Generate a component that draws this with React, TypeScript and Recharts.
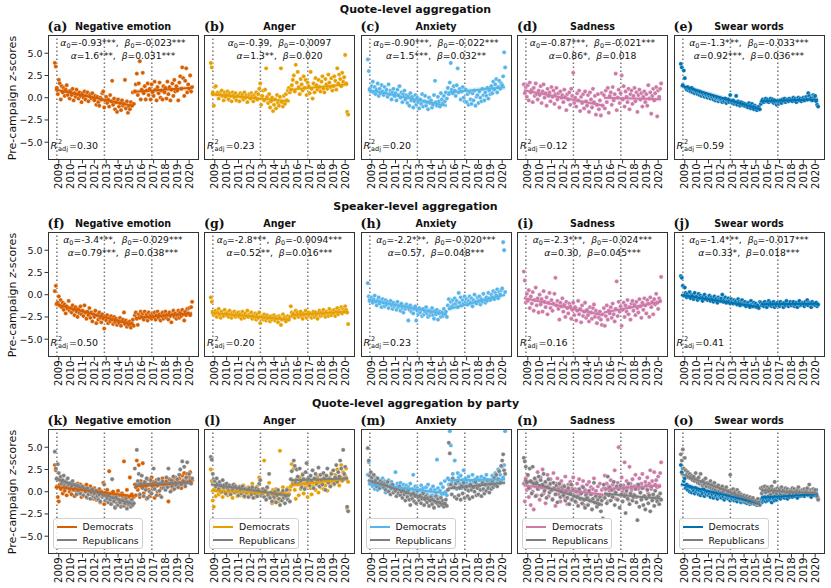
import React from 'react';
import { ComposedChart, Scatter, XAxis, YAxis, ReferenceLine } from 'recharts';

// monthly series: Sep 2008 .. Apr 2020 (140 months), campaign starts Jun 2015 (index 81)
const START_YEAR = 2008;
const START_MONTH = 9;
const N_MONTHS = 140;
const CAMPAIGN_IDX = 81;
const ELECTIONS = [2008.84, 2012.85, 2016.85];
const YEAR_TICKS = [2009, 2010, 2011, 2012, 2013, 2014, 2015, 2016, 2017, 2018, 2019, 2020];
const Y_TICKS = [-5, -2.5, 0, 2.5, 5];

const ROW_TITLES = ['Quote-level aggregation', 'Speaker-level aggregation', 'Quote-level aggregation by party'];
const CATEGORIES = ['Negative emotion', 'Anger', 'Anxiety', 'Sadness', 'Swear words'];
const LABELS = [
  ['(a)', '(b)', '(c)', '(d)', '(e)'],
  ['(f)', '(g)', '(h)', '(i)', '(j)'],
  ['(k)', '(l)', '(m)', '(n)', '(o)'],
];
const COLORS = ['#d55e00', '#e69f00', '#56b4e9', '#cc79a7', '#0072b2'];
const REP_COLOR = '#7f7f7f';

// fitted coefficients text: [alpha0, beta0, alpha, beta, R2adj]
const QUOTE_STATS = [
  ['-0.93***', '-0.023***', '1.6***', '0.031***', '0.30'],
  ['-0.39', '-0.0097', '1.3**', '0.020', '0.23'],
  ['-0.90***', '-0.022***', '1.5***', '0.032**', '0.20'],
  ['-0.87***', '-0.021***', '0.86*', '0.018', '0.12'],
  ['-1.3***', '-0.033***', '0.92***', '0.036***', '0.59'],
];
const SPEAKER_STATS = [
  ['-3.4***', '-0.029***', '0.79***', '0.038***', '0.50'],
  ['-2.8***', '-0.0094***', '0.52**', '0.016***', '0.20'],
  ['-2.2***', '-0.020***', '0.57', '0.048***', '0.23'],
  ['-2.3***', '-0.024***', '0.30', '0.045***', '0.16'],
  ['-1.4***', '-0.017***', '0.33*', '0.018***', '0.41'],
];

// ---- quote-level ----
const negQuote = [
  3.9, 3.5, 1.1, 0.4,
  2.0, 1.6, -0.2, 1.3, 0.6, 1.1, 0.2, 0.9, 1.4, 0.3, 0.7, -0.1,
  0.8, 0.3, 1.0, -0.3, 0.5, 0.1, 0.9, 0.4, -0.1, 0.6, 0.2, -0.5,
  0.5, 0.0, 0.7, -0.2, 0.3, 0.6, -0.4, 0.2, 0.4, -0.1, 0.5, 0.0,
  -0.3, 0.2, -0.8, 0.1, -0.5, -0.9, 0.0, -0.2, 0.5, 0.7, -1.1, -0.3,
  0.1, -0.6, -0.2, -1.0, 0.3, -0.4, 1.9, -0.8, -0.1, -1.3, -0.5, -1.6,
  -0.2, -1.0, -0.6, -1.4, -0.3, -0.9, -0.7, 2.0, -1.2, -0.4, -1.7, -1.0,
  -1.3, -0.5, -0.9, 0.6, -0.7, 0.7, 1.5, 2.7, 0.3, 1.6, 4.1, -0.2,
  0.9, 2.8, 0.5, 1.3, -0.2, 0.8, 1.6, 0.3, 1.0, -0.2, 1.5, 0.6,
  0.2, 1.8, 0.9, -0.3, 1.2, 0.5, 1.7, 0.0, 0.8, -0.2, 1.3, 0.6,
  1.1, -0.1, 1.8, 0.4, 1.2, -0.3, 0.9, 1.6, 0.2, 2.0, 0.7, 1.3,
  0.8, -0.3, 1.7, 2.4, 1.0, 3.4, 2.2, 0.2, 1.9, 3.3, 0.6, 1.5,
  1.0, 2.5, 0.7, 1.2,
];
const angQuote = [
  3.9, 3.4, 0.6, -0.9,
  1.2, 1.3, 0.4, 0.6, -0.1, 0.5, 0.3, 0.8, 0.2, -0.3, 0.6, 0.1,
  0.4, 0.7, -0.2, 0.5, 0.2, -0.4, 0.6, 0.3, 0.0, 0.5, -0.3, 0.2,
  0.3, -0.4, 0.5, 0.1, 0.4, -0.2, 0.6, 0.0, 0.3, -0.5, 0.2, 0.4,
  -0.1, 0.5, 0.2, -0.4, 0.3, 0.0, 0.6, -0.2, 0.4, 1.0, 1.6, -0.8,
  0.2, 0.8, -0.3, 0.9, 3.3, 0.1, -0.6, 0.4, -1.1, -0.4, 0.0, -1.5,
  -0.8, -0.2, -1.2, 0.3, -0.6, -0.9, 0.1, 3.3, -0.5, -1.0, 0.2, -0.7,
  0.4, -0.3, 0.8, 1.1, 0.6, 0.9, 1.4, 2.0, 2.5, 0.7, 3.7, 1.7,
  2.9, 1.2, 0.4, 2.1, 1.5, 0.8, 2.4, 1.1, 2.0, 0.3, 1.7, 1.3,
  0.5, 2.9, 1.0, -0.1, 1.6, 0.6, 2.2, 1.4, 0.9, 2.0, 1.2, 0.7,
  1.8, 2.4, 1.0, 0.6, 2.1, 1.5, 1.0, 2.6, 1.7, 1.2, 2.2, 0.8,
  1.3, 2.4, 1.9, 0.9, 3.3, 1.6, 2.6, 2.1, 1.3, 2.8, 1.8, 2.3,
  4.8, 1.6, -1.6, -1.9,
];
const anxQuote = [
  4.3, 3.0, 1.0, 0.7,
  1.3, 1.8, 0.6, 1.2, 0.4, 0.9, 1.6, 0.2, 1.0, 0.5, 1.4, 0.7,
  0.3, 1.2, 0.6, 0.9, 0.1, 1.5, 0.4, 0.8, -0.2, 0.6, 1.0, 0.2,
  0.5, -0.3, 0.9, 0.3, 1.3, 0.0, 0.6, -0.5, 0.4, 0.8, -0.2, 0.3,
  -0.6, 0.2, -0.9, 0.5, -0.3, 0.1, -1.1, -0.4, 0.3, -0.8, 0.0, -0.5,
  -1.2, -0.2, -0.7, 0.4, -1.0, -0.4, 0.2, -0.9, -0.5, -1.3, 0.0, -0.6,
  -0.3, -1.1, -0.8, 0.3, 1.9, -0.5, -0.9, 0.1, -0.4, -1.0, 0.5, -0.2,
  -0.6, 0.2, -0.4, 0.6, -0.1, 1.1, 0.4, 1.7, 3.9, 0.9, 0.5, 1.3,
  0.8, 0.2, 1.4, 3.3, 0.6, 1.0, -0.2, 0.7, 1.2, 0.0, -0.4, 0.9,
  -0.5, 0.4, -0.8, 0.6, -0.2, -0.7, 0.5, -0.3, 0.8, -0.9, 0.1, 0.3,
  -0.6, 0.7, 0.0, -0.4, 1.0, 0.3, -0.3, 0.6, 0.2, 1.1, -0.1, 0.8,
  0.4, 1.3, 0.5, 1.8, 0.9, 1.5, 2.1, 0.6, 1.2, 1.9, 1.0, 1.6,
  1.4, 2.4, 5.1, 3.4,
];
const sadQuote = [
  1.5, 0.5, 1.2, 0.1,
  1.4, -0.3, 1.7, 0.6, 0.9, -0.5, 1.1, 0.2, 1.6, 0.4, -0.2, 0.8,
  0.3, 1.3, -0.6, 0.7, 1.5, 0.0, 0.5, -0.9, 1.0, 0.2, 0.6, -0.4,
  1.2, 0.1, 0.8, -0.7, 0.4, 1.1, -0.2, 0.5, -1.1, 0.7, 0.0, 0.3,
  -0.5, 0.9, 0.1, -1.4, 0.4, -0.2, 0.6, -0.8, 1.0, 0.2, 2.8, -0.6,
  0.0, -1.0, 0.5, -0.3, 0.8, -1.5, 0.1, -0.6, 0.4, -1.2, 0.7, -0.4,
  -0.9, 0.3, -1.6, 0.6, -0.2, -1.1, 1.0, -0.5, 0.2, -1.9, -0.8, 0.4,
  -1.3, -0.3, -2.0, 0.5, -0.9, 0.3, -1.2, 0.8, -0.5, 1.1, -1.7, 0.2,
  0.6, -0.8, 1.2, -0.3, 0.4, 2.7, -1.4, 0.0, 0.9, -0.6, 0.5, 2.5,
  -0.2, 1.3, -1.0, 0.7, 0.1, -0.5, 1.0, -1.3, 0.4, 0.8, -0.7, 0.2,
  1.1, -0.4, 0.6, -1.6, 0.3, 0.9, -0.2, 0.5, -1.0, 0.1, 0.7, -0.5,
  0.4, -0.9, 1.4, -0.1, 0.6, -1.8, 0.2, 1.0, -0.3, 0.5, 1.2, -2.1,
  0.8, 0.1, 1.0, 1.6,
];
const swQuote = [
  3.8, 3.4, 1.4, 3.05,
  2.2, 1.1, 0.9, 1.2, 0.8, 1.0, 0.7, 1.1, 0.6, 0.9, 0.5, 0.8,
  0.6, 0.4, 0.7, 0.3, 0.6, 0.2, 0.5, 0.3, 0.1, 0.4, 0.2, 0.0,
  0.3, 0.1, -0.1, 0.2, 0.0, -0.2, 0.1, -0.3, -0.1, 0.0, -0.4, -0.2,
  -0.1, -0.3, -0.5, -0.2, -0.4, -0.1, -0.6, -0.3, -0.2, -0.5, 0.3, -0.4,
  -0.6, -0.3, -0.7, -0.5, 0.2, -0.8, -0.4, -0.6, -0.9, -0.5, -0.8, -0.6,
  -0.9, -0.7, -1.0, -0.8, -1.1, -0.6, -0.9, -1.2, -0.7, -1.0, -1.3, -0.9,
  -1.1, -1.4, -1.2, -1.0, -1.3, -0.7, -0.4, -0.2, -0.5, -0.3, -0.1, -0.4,
  -0.2, -0.5, -0.3, -0.1, -0.4, -0.2, -0.6, -0.3, -0.5, -0.8, -0.4, -0.7,
  -0.5, -0.3, -0.6, -0.2, -0.4, -0.1, -0.5, -0.3, -0.2, -0.4, -0.1, -0.3,
  -0.2, -0.4, 0.0, -0.3, -0.1, -0.5, -0.2, 0.0, -0.3, -0.1, -0.4, -0.2,
  0.0, -0.3, -0.1, 0.1, -0.2, 0.5, 0.2, -0.1, 0.0, -0.3, 0.3, 0.1,
  0.2, -0.4, -0.8, -1.0,
];

// ---- speaker-level ----
const negSpeaker = [
  0.4, 1.0, -1.0, -0.9,
  -0.2, -1.2, -0.6, -1.4, -0.9, -1.7, -1.1, -2.1, -1.3, -1.6, -0.7, -1.8,
  -1.5, -2.0, -1.2, -1.7, -2.3, -1.4, -1.9, -2.5, -1.6, -2.1, -1.3, -2.2,
  -1.8, -2.4, -1.2, -2.0, -2.7, -1.9, -2.3, -1.5, -2.6, -2.0, -3.0, -2.2,
  -2.5, -1.8, -3.2, -2.3, -2.8, -2.0, -2.6, -3.1, -2.2, -2.7, -3.8, -2.4,
  -2.9, -2.3, -3.2, -2.6, -3.0, -2.4, -2.8, -3.3, -2.5, -3.1, -2.7, -3.4,
  -2.9, -3.2, -2.6, -3.5, -3.0, -2.8, -2.0, -3.3, -2.9, -3.6, -3.1, -3.4,
  -3.0, -3.7, -3.2, -2.8, -3.5, -2.3, -2.0, -2.7, -3.4, -2.2, -2.6, -1.9,
  -2.4, -2.1, -2.8, -1.9, -2.5, -2.2, -2.9, -2.0, -2.6, -2.3, -2.7, -2.1,
  -2.5, -2.0, -2.8, -2.3, -1.9, -2.6, -2.2, -2.9, -2.4, -2.0, -2.7, -2.3,
  -1.9, -2.6, -2.2, -2.8, -2.0, -2.4, -3.1, -2.2, -1.8, -2.5, -2.1, -2.7,
  -2.3, -1.8, -2.6, -2.0, -2.4, -1.7, -2.2, -2.9, -1.9, -2.3, -1.6, -2.1,
  -1.5, -2.3, -1.4, -0.8,
];
const angSpeaker = [
  -0.3, -0.8, -1.9, -2.3,
  -2.1, -1.8, -2.5, -2.0, -1.6, -2.3, -2.6, -1.9, -2.2, -2.4, -1.7, -2.1,
  -2.3, -2.0, -2.5, -1.8, -2.2, -2.6, -2.0, -2.3, -1.9, -2.5, -2.1, -2.4,
  -2.0, -2.5, -2.2, -2.7, -1.9, -2.3, -2.6, -2.1, -2.4, -1.8, -2.5, -2.2,
  -2.4, -2.0, -2.7, -2.3, -2.5, -2.1, -2.8, -2.2, -2.6, -2.0, -3.2, -2.4,
  -2.5, -2.8, -2.2, -2.6, -2.9, -2.3, -2.7, -2.5, -3.0, -2.4, -2.8, -2.6,
  -2.3, -2.9, -2.5, -2.7, -3.1, -2.4, -2.6, -3.4, -2.8, -2.2, -2.7, -2.5,
  -3.0, -2.6, -2.4, -2.8, -2.5, -1.3, -2.0, -2.4, -2.1, -2.6, -1.8, -2.3,
  -2.0, -2.5, -2.2, -1.9, -2.4, -2.7, -2.1, -2.3, -1.8, -2.6, -2.2, -2.0,
  -2.4, -2.1, -2.6, -2.2, -1.9, -2.5, -2.0, -2.3, -2.7, -2.1, -1.8, -2.4,
  -2.0, -2.3, -1.7, -2.2, -2.5, -1.9, -2.1, -2.4, -1.6, -2.0, -2.3, -1.8,
  -2.1, -1.7, -2.4, -1.9, -1.5, -2.2, -1.8, -2.0, -1.4, -2.1, -1.6, -1.9,
  -1.3, -1.7, -2.0, -3.3,
];
const anxSpeaker = [
  1.3, -0.2, -0.7, -0.4,
  -0.3, -0.9, -0.5, -0.1, -0.8, -1.2, -0.6, -0.3, -1.0, -0.7, -1.4, -0.5,
  -0.9, -1.3, -0.6, -1.1, -0.8, -1.5, -1.0, -0.7, -1.2, -1.6, -0.9, -1.3,
  -1.1, -1.7, -0.8, -1.4, -1.2, -1.8, -1.0, -1.5, -2.0, -1.3, -1.6, -1.1,
  -1.4, -2.9, -1.7, -1.2, -1.9, -1.5, -2.1, -1.6, -1.3, -2.9, -1.8, -2.2,
  -1.5, -2.0, -1.7, -2.4, -1.6, -2.2, -1.9, -1.4, -2.1, -2.5, -1.8, -2.3,
  -2.0, -1.5, -2.3, -2.7, -1.8, -2.2, -1.7, -2.8, -2.1, -1.9, -2.5, -2.0,
  -2.4, -1.6, -2.2, -1.9, -2.5, -1.2, -0.5, -1.5, -0.8, -1.3, -0.6, -1.1,
  -0.4, -1.0, -0.7, -1.4, 0.2, -0.9, -0.3, -1.2, -0.6, -1.0, -0.2, -0.8,
  -0.5, -1.1, -0.7, -0.2, -0.9, -0.4, -1.3, -0.6, 0.0, -0.8, -1.0, -0.3,
  -0.7, -0.2, -1.1, -0.5, -0.8, 0.1, -0.6, -0.9, -0.3, -0.7, 0.2, -0.4,
  -0.6, 0.0, -0.3, 0.4, -0.5, 0.2, -0.1, 0.6, -0.4, 0.3, 0.0, 0.5,
  0.7, 5.9, 5.0, 0.3,
];
const sadSpeaker = [
  2.6, 1.6, -0.9, 0.1,
  -0.7, 0.5, -1.5, -0.2, -1.0, 0.3, -1.8, -0.6, 0.8, -1.2, -0.4, -2.0,
  0.0, -1.1, -0.5, -1.9, 0.4, -0.8, -1.4, -0.3, -2.2, -0.9, 0.2, -1.5,
  -0.6, -1.8, -1.0, 0.1, 1.9, -1.2, -0.7, -1.6, -2.8, -0.9, -1.3, -0.4,
  -1.9, -1.1, -2.5, -0.8, -1.5, -2.1, -1.0, -1.3, -2.7, -1.7, -0.9, -2.3,
  -1.4, -2.9, -1.8, -0.7, -2.2, -1.6, -3.1, -1.2, -2.4, -1.9, -0.9, -2.6,
  -1.7, -2.3, -3.0, -1.4, -2.0, -2.7, -1.5, -1.1, -2.5, -1.8, -3.2, -2.1,
  -2.6, -1.9, -2.8, -3.4, -2.2, -1.5, -3.5, -2.4, -1.2, -2.8, -1.8, -2.1,
  -1.4, -2.6, -1.0, -2.2, -3.0, -1.6, 1.5, -2.4, -0.8, -1.9, -1.3, -3.5,
  -1.7, -0.9, -2.5, -1.2, -1.9, -0.6, -2.2, -1.4, -2.8, -1.0, -0.7, -1.8,
  -1.1, -2.3, -0.8, -1.5, -2.0, -0.5, -1.3, -2.6, -0.9, -1.7, -0.4, -1.2,
  -2.1, -0.6, -1.0, -2.5, -0.3, -1.4, -0.8, -2.2, -0.5, -1.1, 0.1, -0.9,
  -1.6, -0.4, -0.7, 2.0,
];
const swSpeaker = [
  2.1, 1.9, 1.0, -0.1,
  0.8, 0.2, -0.3, 0.1, -0.2, 0.3, -0.4, 0.0, -0.1, -0.5, 0.2, -0.3,
  -0.2, -0.6, 0.1, -0.4, -0.1, -0.3, -0.7, -0.2, 0.0, -0.5, -0.3, -0.6,
  -0.4, -0.1, -0.7, -0.3, -0.5, -0.8, -0.2, -0.6, -0.4, -0.9, -0.3, -0.5,
  -0.7, -0.4, 0.0, -0.8, -0.5, -0.3, -0.9, -0.6, -0.4, -0.7, -1.0, -0.5,
  -0.8, -1.0, -0.6, -0.9, -0.7, -1.1, -0.5, -0.8, -1.2, -0.9, -0.6, -1.0,
  -1.1, -0.8, -1.3, -1.0, -0.9, -1.2, -1.4, -0.7, -1.1, -1.3, -0.9, -1.2,
  -1.0, -1.4, -1.2, -1.5, -0.8, -0.9, -1.2, -1.0, -1.3, -0.8, -1.1, -1.4,
  -1.0, -0.7, -1.2, -0.9, -1.3, -1.1, -0.8, -1.4, -1.0, -1.2, -0.9, -1.1,
  -1.3, -0.8, -1.1, -1.0, -1.4, -0.9, -1.2, -0.7, -1.1, -1.3, -1.0, -0.8,
  -1.2, -1.0, -0.8, -1.3, -1.1, -0.9, -1.4, -1.0, -0.7, -1.2, -1.1, -0.9,
  -1.0, -1.3, -0.8, -1.1, -0.6, -1.2, -0.9, -1.0, -1.4, -0.8, -1.1, -1.0,
  -1.2, -0.9, -1.3, -1.1,
];

// ---- quote-level by party ----
const negDem = [
  3.0, 2.4, 0.5, -0.6,
  -1.1, 0.8, 0.3, 1.1, -0.2, 0.6, 0.1, 1.2, -0.4, 0.5, 0.9, 0.0,
  0.4, -0.3, 0.7, 0.2, -0.5, 0.6, 0.0, 0.9, -0.2, 0.3, 0.8, -0.6,
  0.2, -0.4, 0.5, 0.0, 0.8, -0.7, 0.3, -0.1, 0.6, -0.3, 0.1, -0.8,
  0.4, -0.2, -0.9, 0.1, -0.5, 0.3, -1.2, 0.0, -0.4, 1.0, -1.4, -0.1,
  -0.6, 0.2, -0.3, 2.3, -0.9, -0.2, -1.1, 0.0, -0.5, -1.7, -0.3, -0.8,
  0.1, -1.0, -0.4, -1.3, -0.2, -0.7, 3.4, -1.1, -0.5, 0.2, -1.5, -0.6,
  1.6, -0.9, -0.3, -1.2, -0.6, 0.8, -0.4, 3.5, 0.2, 3.0, -0.6, 1.2,
  0.5, 3.2, -0.2, 1.0, 0.6, -0.8, 1.4, 0.2, -0.5, 0.9, 1.6, 0.3,
  1.1, -0.7, 0.6, 1.3, 0.0, 0.8, -0.4, 1.0, 0.4, 1.5, 0.7, 1.1,
  0.3, 1.2, 0.8, -1.1, 1.4, 0.6, 1.0, 0.2, 1.3, 0.9, 1.6, 0.5,
  1.2, 0.7, 1.5, 1.0, 0.4, 1.8, 1.3, 2.1, 0.9, 1.4, 2.0, 1.1,
  1.6, 2.2, 1.0, 1.3,
];
const negRep = [
  4.5, 2.6, 1.5, 3.1,
  2.1, 1.4, 1.7, 0.9, 1.3, 1.8, 0.7, 1.1, 0.5, 1.5, 0.8, 0.3,
  1.0, 0.6, 1.2, 0.2, 0.8, 0.4, -0.3, 0.7, 0.1, 0.5, -0.2, 0.3,
  0.6, -0.4, 0.2, 0.0, -0.6, 0.4, -0.3, 0.1, -0.8, -0.1, 0.3, -0.5,
  -0.2, -0.7, 0.1, -0.5, -0.9, -0.3, -1.1, 0.0, -0.6, -0.4, 0.8, -1.0,
  -0.5, -0.8, -1.2, -0.3, -0.9, -1.4, 1.4, -0.7, -1.1, -1.8, -0.6, -1.3,
  -1.5, -0.9, -1.2, -1.7, -0.4, -1.0, -1.6, -1.3, -0.8, -1.9, -1.1, -1.4,
  -1.2, -1.7, -0.9, -1.5, -1.3, 2.6, 0.5, 4.7, 1.2, 2.0, -0.3, 0.9,
  1.8, 0.4, -0.5, 1.1, 0.2, 1.5, -0.7, 0.8, 0.0, 1.3, -0.2, 0.6,
  2.6, 0.3, 1.0, -0.4, 0.7, 1.4, 0.1, 0.9, -0.6, 1.2, 0.4, 0.8,
  0.2, 1.6, 0.5, 2.6, 0.9, 0.0, 1.3, 0.6, 1.7, 0.3, 1.0, 0.7,
  1.4, 0.5, 1.9, 2.5, 0.8, 3.4, 1.2, 2.8, 0.6, 1.6, 3.3, 1.1,
  2.0, 1.3, 0.9, 1.5,
];
const angDem = [
  2.5, 1.2, -1.0, -1.7,
  0.3, -0.5, 0.8, 0.1, -0.3, 0.6, -0.1, 0.4, -0.6, 0.2, 0.7, -0.2,
  0.5, -0.4, 0.1, 0.6, -0.3, 0.3, -0.7, 0.2, 0.8, -0.1, 0.4, -0.5,
  0.0, 0.6, -0.4, 0.2, -0.2, 0.7, -0.6, 0.1, 0.4, -0.3, 0.5, 0.0,
  -0.5, 0.3, 0.9, -0.2, 0.4, -0.6, 0.1, 0.6, -0.3, 1.6, 0.2, -0.4,
  0.3, -0.5, 3.5, 0.0, -0.8, 0.4, -0.2, 1.0, -0.6, -0.1, -1.3, 0.2,
  -0.4, -0.9, 0.3, -0.6, 0.0, -1.1, 4.6, -0.3, -0.8, 0.5, -0.5, -0.2,
  0.1, -0.7, 0.4, -0.3, 0.2, 0.6, 3.1, 1.0, 2.6, 0.2, -0.8, 1.4,
  0.8, -0.4, 1.6, 0.3, 1.1, 2.0, -0.2, 0.9, 0.5, 1.3, -0.6, 0.7,
  1.2, 0.4, -0.3, 1.0, 0.6, 1.5, 0.2, 0.8, 1.7, -0.1, 1.1, 0.5,
  0.9, 1.4, 0.3, 1.8, 0.7, 1.2, 0.1, 1.0, 1.6, 0.6, 2.1, 0.9,
  1.3, 0.8, 1.9, 1.1, 2.5, 1.4, 0.7, 1.7, 3.0, 1.2, 2.2, 1.5,
  1.8, 2.6, -1.9, 1.1,
];
const angRep = [
  3.9, 3.6, 2.0, 1.4,
  1.2, 0.6, 1.5, 0.9, 0.3, 1.1, 0.7, 0.0, 1.3, 0.5, 0.8, -0.2,
  0.9, 0.4, 0.1, 0.7, -0.3, 0.5, 0.2, 0.8, -0.1, 0.6, 0.0, 0.4,
  -0.4, 0.5, 0.1, -0.2, 0.6, 0.0, -0.5, 0.3, -0.1, 0.2, -0.6, 0.4,
  0.0, -0.3, 0.5, -0.7, 0.1, -0.2, 0.4, -0.5, 0.2, 0.9, 1.3, -0.4,
  -0.2, 0.3, -0.6, 0.1, -0.9, 0.5, -0.4, 2.0, -0.7, -0.1, -1.1, -0.3,
  -0.6, 0.0, -1.2, -0.4, 0.2, -0.8, -1.5, -0.2, -1.0, 0.1, -0.7, -1.3,
  -0.5, 0.2, -0.9, -0.3, -1.1, 1.4, 2.3, 0.8, 3.5, 2.9, 1.0, 2.5,
  1.7, 0.9, 2.6, 1.2, 0.5, 1.9, 1.4, 0.3, 2.2, 3.2, 1.0, 1.6,
  0.7, 1.8, 1.1, 2.4, 0.4, 1.5, 2.0, 0.9, 1.3, 2.7, 0.6, 1.9,
  1.2, 0.8, 2.1, 1.5, 0.2, 1.8, 2.6, 1.0, 1.4, 0.6, 2.0, 1.3,
  2.4, 0.9, 1.6, 3.0, 1.1, 2.2, 1.7, 3.5, 2.6, 1.3, 4.7, 2.0,
  2.8, 1.5, -1.7, -2.2,
];
const anxDem = [
  1.9, 3.3, 1.2, 0.9,
  1.4, 0.6, 1.1, 0.3, 1.6, 0.8, 0.2, 1.3, 0.5, 1.0, 0.7, 1.5,
  0.4, 1.2, -0.1, 0.9, 0.6, 1.3, 0.1, 0.8, 1.1, 0.3, 0.7, 0.0,
  2.2, 0.5, 0.9, -0.2, 0.6, 1.0, 0.2, -0.4, 0.8, 0.4, 0.1, 0.7,
  -0.3, 0.5, 0.2, 0.9, -0.5, 0.3, 1.9, 0.0, 0.6, -0.2, 0.4, 0.1,
  -0.6, 0.2, 0.7, -0.1, 0.4, -0.8, 0.0, 0.5, -0.3, 0.8, -0.5, 0.1,
  0.3, -0.4, 0.6, -0.7, 0.2, -0.1, 3.6, 0.4, -0.6, 0.1, 0.9, -0.3,
  0.5, -0.2, 1.2, 0.0, -0.4, 1.5, 0.8, 6.8, 5.2, 1.0, 2.0, 0.6,
  3.5, 1.2, 0.3, 2.1, 1.6, 0.9, 1.8, 0.4, 1.3, 2.4, 0.7, 1.5,
  1.0, 0.2, 1.7, 0.8, 1.2, 0.5, 1.9, 1.1, 0.6, 1.4, 0.9, 1.6,
  0.4, 1.3, 0.8, 1.7, 0.2, 1.1, 1.5, 0.7, 1.9, 1.0, 0.5, 1.3,
  1.2, 0.7, 1.8, 1.4, 0.9, 2.1, 1.6, 1.0, 2.5, 1.3, 1.9, 1.1,
  2.8, 1.6, 3.0, 6.8,
];
const anxRep = [
  4.9, 3.5, 1.8, 2.2,
  1.6, 1.1, 1.9, 0.8, 1.3, 0.6, 1.5, 0.9, 0.4, 1.2, 0.7, 1.0,
  0.5, 0.9, 0.2, 0.7, 1.1, 0.0, 0.6, -0.3, 0.4, 0.8, -0.1, 0.3,
  0.1, -0.5, 0.4, -0.2, 0.6, -0.4, 0.0, -0.7, 0.2, -0.3, -1.0, -0.1,
  -0.6, 0.2, -0.9, -1.5, -0.4, -0.8, -0.2, -1.1, -0.5, -1.3, 0.1, -0.7,
  -1.0, -0.4, -1.3, -0.8, -0.2, -1.5, -0.9, -0.5, -1.2, -0.7, -1.6, -1.0,
  -0.6, -1.4, -0.9, -1.8, -1.1, -0.5, -1.3, -0.8, -1.6, -1.2, -0.7, -1.5,
  -1.0, -1.7, -1.3, -0.9, -1.6, 0.2, 5.5, 4.3, 0.8, -0.3, 1.5, 0.5,
  -0.6, 0.9, -0.8, 1.2, -0.4, 0.4, -0.9, 0.7, -0.2, 1.0, -0.7, 0.3,
  0.6, -0.5, 0.1, -0.8, 0.8, 0.2, -0.6, 0.5, 0.0, 1.1, -0.4, 0.4,
  -0.3, 0.7, 0.2, -0.5, 1.0, 0.3, -0.2, 0.8, 0.1, 1.3, 0.4, -0.1,
  0.9, 0.3, 1.2, 0.5, 1.6, 0.7, 1.9, 0.6, 1.4, 2.3, 1.0, 2.9,
  3.5, 4.2, 2.4, 2.0,
];
const sadDem = [
  0.9, -1.1, 1.5, 0.2,
  1.8, -0.6, 0.4, -1.5, 1.1, 0.0, -2.0, 0.7, 1.3, -0.4, 2.2, 0.3,
  -0.9, 1.6, 0.5, 2.5, -0.2, 1.0, -1.3, 0.6, 1.9, -0.5, 0.8, 1.4,
  0.1, -0.8, 2.1, 0.4, -1.6, 0.9, 1.5, -0.3, 0.6, -1.1, 1.2, 0.0,
  0.7, -0.6, 1.7, 0.2, -1.4, 0.8, -0.2, 1.1, -0.9, 0.4, 1.6, -0.5,
  0.3, -1.2, 0.9, -0.4, 1.4, 0.0, -0.8, 0.6, 1.2, -1.5, 0.2, -0.3,
  0.8, -0.7, 1.1, -0.2, 0.5, -1.0, 0.3, 1.5, -0.6, 0.1, -1.3, 0.6,
  -0.4, 0.9, -0.9, 0.2, -0.5, 0.4, 1.8, -0.3, 0.9, -1.1, 0.6, 0.1,
  1.3, -0.5, 0.8, 0.2, 2.4, -0.8, 0.5, 1.0, 5.0, 0.3, -0.4, 1.6,
  0.0, 0.7, 3.3, -0.2, 1.2, 0.5, -0.9, 2.8, 0.9, 0.2, 1.4, -0.3,
  0.6, 1.9, -0.6, 0.8, 0.3, 1.5, -0.1, 0.9, 2.0, 0.4, -0.5, 1.1,
  0.7, 1.6, -0.2, 0.9, 2.4, 0.3, 1.2, -0.4, 2.2, 0.8, 1.3, 0.5,
  1.7, 0.6, 2.1, 3.3,
];
const sadRep = [
  3.8, 3.4, 2.8, 1.0,
  1.9, 0.4, 2.6, 1.2, -0.2, 2.8, 0.9, 1.5, -0.5, 1.0, 0.3, 1.7,
  0.6, 1.3, -0.4, 0.8, 2.0, 0.1, 1.1, -0.7, 0.5, 1.4, -0.1, 0.9,
  0.2, -0.9, 1.0, 0.4, -0.3, 0.7, -1.2, 0.3, 0.9, -0.6, 0.0, 0.5,
  -0.4, 0.6, -1.0, 0.1, -0.7, 0.4, -1.4, -0.2, 0.8, -0.9, 0.2, -0.5,
  -1.1, 0.0, -0.6, -1.6, 0.3, -0.8, -0.2, -1.3, 0.5, -0.9, -1.8, -0.4,
  -0.7, -1.5, 0.1, -1.0, -0.3, -2.0, -0.8, 1.0, -1.2, -0.5, -1.7, -0.9,
  -1.4, -0.6, -2.2, -1.0, -3.0, 0.8, -0.7, 0.3, -1.3, 1.7, -0.4, 0.5,
  -1.0, 0.2, -0.6, 1.1, -1.5, -0.1, 0.6, -0.9, 0.3, -1.8, 0.7, -0.3,
  -1.1, 0.4, -0.5, -2.4, 0.1, -0.8, 0.9, -1.4, -0.2, 0.5, -1.0, -0.6,
  -0.4, 0.3, -1.2, -3.2, 0.8, -1.7, -0.1, -0.9, 0.4, -1.5, -0.5, -2.0,
  -0.8, 0.2, -1.3, -0.4, -2.2, 0.6, -1.0, -0.3, -1.6, 0.1, -0.7, -1.1,
  -0.5, -1.4, -0.2, -0.9,
];
const swDem = [
  3.0, 2.2, 2.6, 1.2,
  1.5, 0.4, 0.8, 0.2, 0.6, 0.0, 0.5, -0.1, 0.3, 0.1, -0.2, 0.4,
  0.0, 0.2, -0.3, 0.1, -0.4, 0.0, -0.2, 0.3, -0.5, -0.1, -0.3, 0.0,
  -0.4, -0.2, -0.6, -0.1, -0.3, -0.7, -0.2, -0.5, -0.4, -0.8, -0.3, -0.6,
  -0.5, -0.7, -0.3, -0.6, -0.9, -0.4, -0.7, -0.5, -0.8, -0.6, -1.0, -0.7,
  -0.8, -0.6, -1.0, -0.7, -0.9, -1.1, -0.8, -0.6, -1.0, -1.2, -0.9, -1.1,
  -1.0, -1.2, -0.9, -1.3, -1.1, -1.0, -1.4, -1.2, -0.9, -1.3, -1.1, -1.4,
  -1.2, -1.5, -1.3, -1.1, -1.4, -0.9, -1.2, -0.7, -1.0, -0.6, -1.1, -0.8,
  -1.0, -0.5, -0.9, -0.7, -1.2, -0.6, -0.8, -1.0, -0.4, -0.9, -0.6, -0.7,
  -0.5, -0.8, -0.3, -0.6, -0.4, -0.7, -0.2, -0.5, -0.8, -0.3, -0.6, -0.4,
  -0.3, -0.6, -0.2, -0.5, -0.1, -0.4, -0.7, -0.2, -0.3, -0.5, 0.0, -0.4,
  -0.2, -0.5, 0.1, -0.3, -0.1, -0.4, 0.2, -0.3, -0.6, -0.1, 0.0, -0.4,
  -0.2, 0.2, -0.5, -0.8,
];
const swRep = [
  4.2, 3.5, 4.75, 2.6,
  3.8, 2.4, 1.9, 2.2, 1.6, 2.0, 1.5, 1.8, 1.3, 1.7, 1.2, 2.1,
  1.4, 1.0, 1.6, 0.9, 2.0, 1.1, 0.7, 1.3, 0.8, 1.5, 0.6, 1.0,
  0.9, 0.5, 1.2, 0.4, 0.8, 0.3, 1.0, 0.2, 0.6, 0.0, 0.7, 0.1,
  0.4, -0.1, 0.6, 0.0, 0.3, -0.3, 0.5, -0.2, 0.1, -0.4, 1.9, 0.2,
  -0.2, 0.3, -0.5, 0.0, -0.4, 0.2, -0.6, -0.1, -0.8, -0.3, -0.5, -0.9,
  -0.4, -0.7, -1.0, -0.5, -0.8, -1.2, -0.6, -0.9, -1.3, -0.7, -1.1, -1.4,
  -1.0, -1.3, -0.8, -1.2, -1.5, 0.4, -0.2, 0.5, 0.1, 0.6, -0.1, 0.3,
  0.5, 0.0, 0.4, -0.3, 0.6, 0.2, -0.1, 1.1, 0.3, -0.2, 0.4, 0.1,
  0.3, -0.2, 0.5, 0.0, 0.2, -0.4, 0.4, -0.1, 0.3, 0.0, -0.3, 0.2,
  0.1, 0.4, -0.2, 0.3, 0.0, -0.3, 0.2, 0.5, -0.1, 0.1, -0.4, 0.2,
  0.0, 0.3, -0.2, 0.1, 0.4, -0.3, 0.8, 0.0, 0.2, -0.1, 0.3, 0.0,
  0.2, -0.3, -0.6, -0.9,
];

// fitted segments: [pre start, pre end, post start, post end]
const QUOTE_FITS = [
  [0.93, -0.93, 0.67, 1.13],
  [0.40, -0.39, 0.91, 1.51],
  [0.88, -0.90, 0.60, 1.18],
  [0.83, -0.87, -0.01, -0.18],
  [1.37, -1.30, -0.38, -0.21],
];
const SPEAKER_FITS = [
  [-1.05, -3.40, -2.61, -2.09],
  [-2.04, -2.80, -2.28, -1.90],
  [-0.58, -2.20, -1.63, 0.00],
  [-0.36, -2.30, -2.00, -0.78],
  [-0.02, -1.40, -1.07, -1.01],
];
const DEM_FITS = [
  [0.55, -0.50, 0.60, 1.10],
  [0.10, -0.25, 0.70, 1.45],
  [0.90, -0.20, 1.30, 1.37],
  [0.70, -0.30, 0.30, 0.70],
  [0.84, -1.33, -0.66, -0.28],
];
const REP_FITS = [
  [1.45, -1.45, 0.80, 1.05],
  [0.85, -0.45, 1.30, 1.50],
  [1.30, -1.50, 0.36, 1.00],
  [1.30, -1.50, -0.20, -0.80],
  [2.00, -1.30, 0.17, -0.20],
];

const QUOTE_DATA = [negQuote, angQuote, anxQuote, sadQuote, swQuote];
const SPEAKER_DATA = [negSpeaker, angSpeaker, anxSpeaker, sadSpeaker, swSpeaker];
const DEM_DATA = [negDem, angDem, anxDem, sadDem, swDem];
const REP_DATA = [negRep, angRep, anxRep, sadRep, swRep];

// layout
const PANEL_W = 151;
const PANEL_H = 125;
const COL_LEFT = [47.5, 204, 360.5, 517, 673.5];
const ROW_TOP = [35, 232, 429];
const X_DOMAIN = [2008.09, 2020.83];
const Y_DOMAIN = [-7.0, 7.05];
const Y_AXIS_W = 40;
const X_AXIS_H = 45;
const FONT = '"DejaVu Sans", sans-serif';

const monthX = Array.from({ length: N_MONTHS }, (_, i) => START_YEAR + (START_MONTH - 1 + i) / 12);

const YearTick = (props: any) => {
  const { x, y, payload } = props;
  return (
    <text
      x={x}
      y={y}
      transform={`rotate(-90, ${x}, ${y})`}
      textAnchor="end"
      dominantBaseline="central"
      fontSize={10}
      fontFamily={FONT}
      fill="#111"
    >
      {payload.value}
    </text>
  );
};

const fmtY = (v: number) => (v < 0 ? '\u2212' + Math.abs(v).toFixed(1) : v.toFixed(1));

type Series = { values: number[]; fit: number[]; color: string };

const segments = (fit: number[]) => [
  [
    { x: monthX[0], y: fit[0] },
    { x: monthX[CAMPAIGN_IDX - 1], y: fit[1] },
  ],
  [
    { x: monthX[CAMPAIGN_IDX], y: fit[2] },
    { x: monthX[N_MONTHS - 1], y: fit[3] },
  ],
];

const NoDot = () => <g />;

const Panel = ({ left, top, showY, series }: { left: number; top: number; showY: boolean; series: Series[] }) => {
  const yw = showY ? Y_AXIS_W : 0;
  return (
    <div style={{ position: 'absolute', left: left - yw, top }}>
      <ComposedChart
        width={PANEL_W + yw}
        height={PANEL_H + X_AXIS_H}
        margin={{ top: 0, right: 0, bottom: 0, left: 0 }}
      >
        <XAxis
          type="number"
          dataKey="x"
          domain={X_DOMAIN}
          ticks={YEAR_TICKS}
          interval={0}
          allowDataOverflow
          height={X_AXIS_H}
          axisLine={false}
          tickSize={3.5}
          tickMargin={0}
          tickLine={{ stroke: '#333' }}
          tick={<YearTick />}
        />
        <YAxis
          type="number"
          dataKey="y"
          domain={Y_DOMAIN}
          ticks={Y_TICKS}
          allowDataOverflow
          hide={!showY}
          width={yw}
          axisLine={false}
          tickSize={3.5}
          tickMargin={2}
          tickLine={{ stroke: '#333' }}
          tickFormatter={fmtY}
          tick={{ fontSize: 9.5, fill: '#111', fontFamily: FONT }}
        />
        {ELECTIONS.map((e) => (
          <ReferenceLine key={e} x={e} stroke="#777" strokeWidth={1.5} strokeDasharray="1.5 2.5" />
        ))}
        {series.map((s, si) => (
          <Scatter
            key={`sc${si}`}
            data={s.values.map((v, i) => ({ x: monthX[i], y: v }))}
            isAnimationActive={false}
            shape={(p: any) => (
              <circle cx={p.cx} cy={p.cy} r={2.15} fill={s.color} stroke="#fff" strokeWidth={0.35} />
            )}
          />
        ))}
        {series.map((s, si) =>
          segments(s.fit).map((seg, k) => (
            <Scatter
              key={`band${si}${k}`}
              data={seg}
              isAnimationActive={false}
              shape={NoDot}
              line={{ stroke: s.color, strokeWidth: 5, strokeOpacity: 0.22 }}
              lineType="joint"
            />
          ))
        )}
        {series.map((s, si) =>
          segments(s.fit).map((seg, k) => (
            <Scatter
              key={`fit${si}${k}`}
              data={seg}
              isAnimationActive={false}
              shape={NoDot}
              line={{ stroke: s.color, strokeWidth: 2 }}
              lineType="joint"
            />
          ))
        )}
      </ComposedChart>
      <div
        style={{
          position: 'absolute',
          left: yw,
          top: 0,
          width: PANEL_W,
          height: PANEL_H,
          border: '1px solid #333',
          boxSizing: 'border-box',
          pointerEvents: 'none',
        }}
      />
    </div>
  );
};

const Sub = ({ children }: { children: React.ReactNode }) => (
  <span style={{ fontSize: '70%', position: 'relative', top: '0.3em' }}>{children}</span>
);

const StatsText = ({ left, top, stats }: { left: number; top: number; stats: string[] }) => (
  <>
    <div
      style={{
        position: 'absolute',
        left,
        top: top + 2,
        width: PANEL_W,
        textAlign: 'center',
        fontSize: 9.2,
        lineHeight: '12px',
        whiteSpace: 'nowrap',
      }}
    >
      <div>
        <i>α</i>
        <Sub>0</Sub>={stats[0]},&nbsp;&nbsp;<i>β</i>
        <Sub>0</Sub>={stats[1]}
      </div>
      <div>
        <i>α</i>={stats[2]},&nbsp;&nbsp;<i>β</i>={stats[3]}
      </div>
    </div>
    <div
      style={{
        position: 'absolute',
        left: left + 3,
        top: top + 104,
        fontSize: 9.5,
        lineHeight: '12px',
        whiteSpace: 'nowrap',
        display: 'flex',
        alignItems: 'center',
      }}
    >
      <i>R</i>
      <span style={{ display: 'inline-flex', flexDirection: 'column', fontSize: 6.5, lineHeight: '6.5px', marginLeft: 1, marginRight: 1 }}>
        <span>2</span>
        <span>adj</span>
      </span>
      <span>={stats[4]}</span>
    </div>
  </>
);

const Legend = ({ left, top, color }: { left: number; top: number; color: string }) => (
  <div
    style={{
      position: 'absolute',
      left: left + 5,
      top: top + 89,
      width: 90,
      height: 31,
      border: '1px solid #d0d0d0',
      borderRadius: 3,
      background: 'rgba(255,255,255,0.85)',
      boxSizing: 'border-box',
      fontSize: 9.3,
    }}
  >
    {[
      { c: color, t: 'Democrats', y: 7.5 },
      { c: REP_COLOR, t: 'Republicans', y: 21 },
    ].map((it) => (
      <div key={it.t} style={{ position: 'absolute', left: 3, top: it.y - 6, height: 12, display: 'flex', alignItems: 'center' }}>
        <span style={{ display: 'inline-block', width: 20, height: 2, background: it.c, marginRight: 6 }} />
        <span>{it.t}</span>
      </div>
    ))}
  </div>
);

const App = () => {
  const rows = [0, 1, 2];
  return (
    <div
      style={{
        position: 'absolute',
        left: 0,
        top: 0,
        width: 831,
        height: 588,
        background: '#fff',
        fontFamily: FONT,
        color: '#111',
        overflow: 'hidden',
      }}
    >
      {rows.map((r) => (
        <React.Fragment key={r}>
          <div
            style={{
              position: 'absolute',
              left: 0,
              width: 831,
              top: ROW_TOP[r] - 32,
              lineHeight: '14px',
              textAlign: 'center',
              fontWeight: 'bold',
              fontSize: 11,
            }}
          >
            {ROW_TITLES[r]}
          </div>
          <div
            style={{
              position: 'absolute',
              left: 12,
              top: ROW_TOP[r] + PANEL_H / 2,
              transform: 'translate(-50%, -50%) rotate(-90deg)',
              whiteSpace: 'nowrap',
              fontSize: 11,
            }}
          >
            Pre-campaign <i>z</i>-scores
          </div>
          {COL_LEFT.map((cl, c) => {
            const series: Series[] =
              r === 0
                ? [{ values: QUOTE_DATA[c], fit: QUOTE_FITS[c], color: COLORS[c] }]
                : r === 1
                ? [{ values: SPEAKER_DATA[c], fit: SPEAKER_FITS[c], color: COLORS[c] }]
                : [
                    { values: DEM_DATA[c], fit: DEM_FITS[c], color: COLORS[c] },
                    { values: REP_DATA[c], fit: REP_FITS[c], color: REP_COLOR },
                  ];
            return (
              <React.Fragment key={c}>
                <div
                  style={{
                    position: 'absolute',
                    left: cl,
                    top: ROW_TOP[r] - 15.5,
                    lineHeight: '14px',
                    fontFamily: '"DejaVu Serif", serif',
                    fontWeight: 'bold',
                    fontSize: 12.5,
                  }}
                >
                  {LABELS[r][c]}
                </div>
                <div
                  style={{
                    position: 'absolute',
                    left: cl,
                    width: PANEL_W,
                    top: ROW_TOP[r] - 14,
                    lineHeight: '12px',
                    textAlign: 'center',
                    fontWeight: 'bold',
                    fontSize: 9.6,
                  }}
                >
                  {CATEGORIES[c]}
                </div>
                <Panel left={cl} top={ROW_TOP[r]} showY={c === 0} series={series} />
                {r === 0 && <StatsText left={cl} top={ROW_TOP[r]} stats={QUOTE_STATS[c]} />}
                {r === 1 && <StatsText left={cl} top={ROW_TOP[r]} stats={SPEAKER_STATS[c]} />}
                {r === 2 && <Legend left={cl} top={ROW_TOP[r]} color={COLORS[c]} />}
              </React.Fragment>
            );
          })}
        </React.Fragment>
      ))}
    </div>
  );
};

export default App;
